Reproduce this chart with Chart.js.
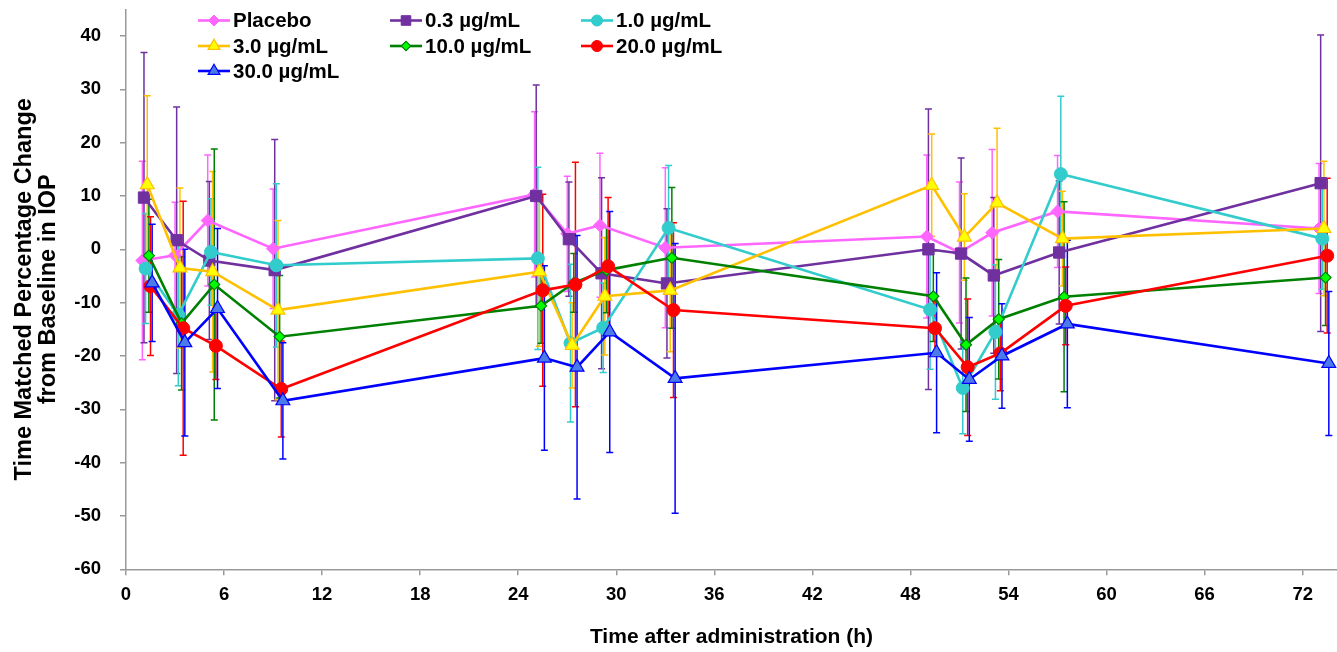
<!DOCTYPE html>
<html>
<head>
<meta charset="utf-8">
<script src="https://cdn.jsdelivr.net/npm/chart.js@4/dist/chart.umd.min.js"></script>
<style>
html,body{margin:0;padding:0;background:#ffffff;overflow:hidden;}
canvas{display:block;}
</style>
</head>
<body>
<canvas id="c" width="1337" height="652"></canvas>
<script>
// ---------------- DATA ----------------
const seriesLabels = ['Placebo', '0.3 µg/mL', '1.0 µg/mL', '3.0 µg/mL', '10.0 µg/mL', '20.0 µg/mL', '30.0 µg/mL'];

// time points (h) as plotted for each series (slightly staggered in the figure)
const timePlacebo = [1.0, 3.0, 5.0, 9.0, 25.0, 27.0, 29.0, 33.0, 49.0, 51.0, 53.0, 57.0, 73.0];
const time03      = [1.1, 3.1, 5.1, 9.1, 25.1, 27.1, 29.1, 33.1, 49.1, 51.1, 53.1, 57.1, 73.1];
const time10      = [1.2, 3.2, 5.2, 9.2, 25.2, 27.2, 29.2, 33.2, 49.2, 51.2, 53.2, 57.2, 73.2];
const time30      = [1.3, 3.3, 5.3, 9.3, 25.3, 27.3, 29.3, 33.3, 49.3, 51.3, 53.3, 57.3, 73.3];
const time100     = [1.4, 3.4, 5.4, 9.4, 25.4, 27.4, 29.4, 33.4, 49.4, 51.4, 53.4, 57.4, 73.4];
const time200     = [1.5, 3.5, 5.5, 9.5, 25.5, 27.5, 29.5, 33.5, 49.5, 51.5, 53.5, 57.5, 73.5];
const time300     = [1.6, 3.6, 5.6, 9.6, 25.6, 27.6, 29.6, 33.6, 49.6, 51.6, 53.6, 57.6, 73.6];

// mean % change from baseline
const meanPlacebo = [-2.1, -1.1, 5.4, 0.1, 10.3, 2.9, 4.5, 0.3, 2.4, -0.6, 3.1, 7.1, 3.9];
const mean03      = [9.7, 1.7, -2.1, -3.9, 10.0, 1.9, -4.5, -6.4, 0.0, -0.8, -4.9, -0.6, 12.4];
const mean10      = [-3.6, -12.3, -0.5, -3.0, -1.7, -17.6, -14.7, 4.0, -11.3, -26.0, -15.5, 14.1, 2.0];
const mean30      = [12.1, -3.5, -4.2, -11.4, -4.2, -18.0, -8.8, -7.7, 12.0, 2.3, 8.7, 2.0, 3.9];
const mean100     = [-1.2, -13.9, -6.6, -16.4, -10.6, -6.3, -3.9, -1.6, -8.8, -17.9, -13.1, -8.9, -5.3];
const mean200     = [-6.9, -14.8, -18.1, -26.2, -7.7, -6.6, -3.2, -11.4, -14.8, -22.1, -19.5, -10.6, -1.2];
const mean300     = [-6.3, -17.5, -11.1, -28.4, -20.4, -22.1, -15.5, -24.2, -19.4, -24.4, -20.0, -14.0, -21.4];

// standard deviations (error bars)
const sdPlacebo = [18.6, 9.9, 12.3, 11.2, 15.5, 10.8, 13.5, 15.0, 15.3, 13.2, 15.6, 10.5, 12.2];
const sd03      = [27.2, 25.0, 14.8, 24.5, 20.8, 10.7, 17.9, 14.0, 26.3, 17.9, 14.6, 13.4, 27.8];
const sd10      = [10.3, 13.3, 10.0, 15.3, 17.1, 14.8, 8.4, 11.7, 11.2, 8.6, 12.6, 14.6, 9.5];
const sd30      = [16.7, 15.0, 18.8, 16.8, 14.0, 8.0, 11.0, 11.5, 9.6, 8.1, 14.0, 8.9, 12.6];
const sd100     = [10.6, 12.5, 25.4, 11.5, 7.0, 5.5, 8.0, 13.2, 8.5, 12.5, 11.2, 17.8, 9.0];
const sd200     = [13.0, 23.8, 6.3, 9.0, 18.0, 22.9, 12.9, 16.4, 5.0, 12.8, 7.0, 7.3, 14.5];
const sd300     = [11.0, 17.5, 15.0, 10.9, 17.3, 24.7, 22.6, 25.3, 15.0, 11.6, 9.8, 15.7, 13.5];

const xTickValues = [0, 6, 12, 18, 24, 30, 36, 42, 48, 54, 60, 66, 72];
const xTickLabels = ['0', '6', '12', '18', '24', '30', '36', '42', '48', '54', '60', '66', '72'];
const yTickValues = [-60, -50, -40, -30, -20, -10, 0, 10, 20, 30, 40];
const yTickLabels = ['-60', '-50', '-40', '-30', '-20', '-10', '0', '10', '20', '30', '40'];

const xTitle = 'Time after administration (h)';
const yTitle = ['Time Matched Percentage Change', 'from Baseline in IOP'];

// ---------------- STYLE ----------------
const FONT = "'Liberation Sans', Arial, Helvetica, sans-serif";
const times = [timePlacebo, time03, time10, time30, time100, time200, time300];
const means = [meanPlacebo, mean03, mean10, mean30, mean100, mean200, mean300];
const sds   = [sdPlacebo, sd03, sd10, sd30, sd100, sd200, sd300];
const styles = [
  {line: '#FF66FF', fill: '#FF66FF', pborder: '#FF66FF', shape: 'rectRot', r: 6.5, bw: 1},
  {line: '#7030A0', fill: '#7030A0', pborder: '#7030A0', shape: 'rect', r: 8, bw: 1},
  {line: '#33CCCC', fill: '#33CCCC', pborder: '#33CCCC', shape: 'circle', r: 6.5, bw: 1},
  {line: '#FFC000', fill: '#FFFF00', pborder: '#FFC000', shape: 'triangle', r: 8, bw: 1.2},
  {line: '#008000', fill: '#00FF00', pborder: '#008000', shape: 'rectRot', r: 5.5, bw: 1.2},
  {line: '#FF0000', fill: '#FF0000', pborder: '#FF0000', shape: 'circle', r: 6.5, bw: 1},
  {line: '#0000FF', fill: '#4A7BE8', pborder: '#0000FF', shape: 'triangle', r: 8, bw: 1.2}
];

const datasets = seriesLabels.map((lab, i) => ({
  label: lab,
  data: times[i].map((t, j) => ({x: t, y: means[i][j]})),
  errors: sds[i],
  borderColor: styles[i].line,
  backgroundColor: styles[i].fill,
  pointBackgroundColor: styles[i].fill,
  pointBorderColor: styles[i].pborder,
  pointBorderWidth: styles[i].bw,
  pointStyle: styles[i].shape,
  pointRadius: styles[i].r,
  pointHoverRadius: styles[i].r,
  borderWidth: 2.6,
  showLine: true,
  tension: 0,
  fill: false,
  clip: false,
  order: 7 - i
}));

// error bars, drawn under the lines
const errorBars = {
  id: 'errorBars',
  beforeDatasetsDraw(chart) {
    const ctx = chart.ctx, xs = chart.scales.x, ys = chart.scales.y;
    chart.data.datasets.forEach((ds) => {
      ctx.save();
      ctx.strokeStyle = ds.borderColor;
      ctx.lineWidth = 1.5;
      ds.data.forEach((p, j) => {
        const e = ds.errors[j];
        const x = xs.getPixelForValue(p.x);
        const y1 = ys.getPixelForValue(p.y + e);
        const y2 = ys.getPixelForValue(p.y - e);
        ctx.beginPath();
        ctx.moveTo(x, y1); ctx.lineTo(x, y2);
        ctx.moveTo(x - 3.5, y1); ctx.lineTo(x + 3.5, y1);
        ctx.moveTo(x - 3.5, y2); ctx.lineTo(x + 3.5, y2);
        ctx.stroke();
      });
      ctx.restore();
    });
  }
};

// legend laid out in three columns like the original
const gridLegend = {
  id: 'gridLegend',
  afterDraw(chart) {
    const ctx = chart.ctx;
    const colX = [198, 390, 581];
    const rowY = [20.5, 46, 71];
    chart.data.datasets.forEach((ds, i) => {
      const st = styles[i];
      const x0 = colX[i % 3], y = rowY[Math.floor(i / 3)];
      ctx.save();
      ctx.strokeStyle = st.line;
      ctx.lineWidth = 2.6;
      ctx.beginPath(); ctx.moveTo(x0, y); ctx.lineTo(x0 + 32, y); ctx.stroke();
      ctx.fillStyle = st.fill;
      ctx.strokeStyle = st.pborder;
      ctx.lineWidth = st.bw;
      Chart.helpers.drawPoint(ctx, {pointStyle: st.shape, rotation: 0, radius: st.r * 0.85, borderWidth: st.bw}, x0 + 16, y);
      ctx.fillStyle = '#000';
      ctx.font = 'bold 20.5px ' + FONT;
      ctx.textAlign = 'left';
      ctx.textBaseline = 'middle';
      ctx.fillText(ds.label, x0 + 35, y + 1);
      ctx.restore();
    });
  }
};

new Chart(document.getElementById('c'), {
  type: 'line',
  data: {datasets},
  options: {
    responsive: false,
    animation: false,
    devicePixelRatio: 1,
    layout: {autoPadding: false, padding: {top: 9.3, left: 0, right: 0, bottom: 0}},
    plugins: {legend: {display: false}, tooltip: {enabled: false}},
    scales: {
      x: {
        type: 'linear', min: 0, max: 74.1,
        afterBuildTicks: s => { s.ticks = xTickValues.map(v => ({value: v})); },
        afterFit: s => { s.height = 82.7; s.paddingLeft = 0; s.paddingRight = 0; },
        grid: {display: true, drawOnChartArea: false, drawTicks: true, tickLength: 6, color: '#999', lineWidth: 1.5},
        border: {display: true, color: '#999', width: 1.5},
        ticks: {
          autoSkip: false, maxRotation: 0, padding: 8.5, color: '#000',
          font: {family: FONT, size: 18.5, weight: 'bold'},
          callback: (v, i) => xTickLabels[i]
        },
        title: {
          display: true, text: xTitle, color: '#000',
          font: {family: FONT, size: 21, weight: 'bold', lineHeight: 1},
          padding: {top: 0, bottom: 4}
        }
      },
      y: {
        type: 'linear', min: -60, max: 45,
        afterBuildTicks: s => { s.ticks = yTickValues.map(v => ({value: v})); },
        afterFit: s => { s.width = 126; s.paddingTop = 0; s.paddingBottom = 0; },
        grid: {display: true, drawOnChartArea: false, drawTicks: true, tickLength: 6, color: '#999', lineWidth: 1.5},
        border: {display: true, color: '#999', width: 1.5},
        ticks: {
          autoSkip: false, padding: 19, color: '#000',
          font: {family: FONT, size: 18.5, weight: 'bold'},
          callback: (v, i) => yTickLabels[i]
        },
        title: {
          display: true, text: yTitle, color: '#000',
          font: {family: FONT, size: 23.5, weight: 'bold', lineHeight: 0.98},
          padding: {top: 13.5, bottom: 0}
        }
      }
    }
  },
  plugins: [errorBars, gridLegend]
});
</script>
</body>
</html>
